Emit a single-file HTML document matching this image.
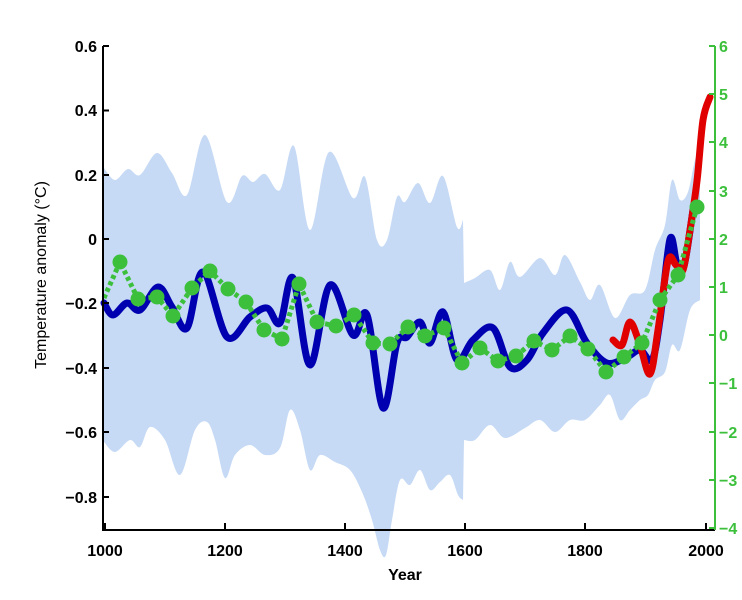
<!DOCTYPE html>
<html><head><meta charset="utf-8"><style>
html,body{margin:0;padding:0;background:#fff;}
svg{display:block;font-family:"Liberation Sans",Arial,sans-serif;font-weight:bold;}
</style></head><body>
<svg id="s" width="742" height="600" viewBox="0 0 742 600" xmlns="http://www.w3.org/2000/svg">
<path id="band" fill="#c6daf5" d=""/>
<path id="blue" fill="none" stroke="#0000b0" stroke-width="7" stroke-linejoin="round" stroke-linecap="round" d=""/>
<path id="red" fill="none" stroke="#e00000" stroke-width="7" stroke-linejoin="round" stroke-linecap="round" d=""/>
<polyline fill="none" stroke="#3cc03c" stroke-width="5" stroke-dasharray="4 3" points="104,298 120,262 138,299 157,297 173,316 192,288 210,271 228,289 246,302 264,330 282,339 299,284 317,322 336,326 354,315 373,343 390,344 408,327 425,336 444,328 462,363 480,348 498,361 516,356 534,341 552,350 570,336 588,349 606,372 624,357 642,343 660,300 678,275 697,207"/>
<g fill="#3cc03c">
<circle cx="120" cy="262" r="7.5"/><circle cx="138" cy="299" r="7.5"/><circle cx="157" cy="297" r="7.5"/><circle cx="173" cy="316" r="7.5"/><circle cx="192" cy="288" r="7.5"/><circle cx="210" cy="271" r="7.5"/><circle cx="228" cy="289" r="7.5"/><circle cx="246" cy="302" r="7.5"/><circle cx="264" cy="330" r="7.5"/><circle cx="282" cy="339" r="7.5"/><circle cx="299" cy="284" r="7.5"/><circle cx="317" cy="322" r="7.5"/><circle cx="336" cy="326" r="7.5"/><circle cx="354" cy="315" r="7.5"/><circle cx="373" cy="343" r="7.5"/><circle cx="390" cy="344" r="7.5"/><circle cx="408" cy="327" r="7.5"/><circle cx="425" cy="336" r="7.5"/><circle cx="444" cy="328" r="7.5"/><circle cx="462" cy="363" r="7.5"/><circle cx="480" cy="348" r="7.5"/><circle cx="498" cy="361" r="7.5"/><circle cx="516" cy="356" r="7.5"/><circle cx="534" cy="341" r="7.5"/><circle cx="552" cy="350" r="7.5"/><circle cx="570" cy="336" r="7.5"/><circle cx="588" cy="349" r="7.5"/><circle cx="606" cy="372" r="7.5"/><circle cx="624" cy="357" r="7.5"/><circle cx="642" cy="343" r="7.5"/><circle cx="660" cy="300" r="7.5"/><circle cx="678" cy="275" r="7.5"/><circle cx="697" cy="207" r="7.5"/>
</g>
<g stroke="#000" stroke-width="2" fill="none">
<path d="M103,46 L103,530 L715,530"/>
<path d="M103,46h6M103,110.5h6M103,175h6M103,239h6M103,303h6M103,368h6M103,432h6M103,497h6"/>
<path d="M105,530v-7M225,530v-7M345,530v-7M465,530v-7M585,530v-7M706,530v-7"/>
</g>
<g stroke="#3cc03c" stroke-width="2" fill="none">
<path d="M715,46 L715,530"/>
<path d="M715,46h-6M715,94h-6M715,142h-6M715,191h-6M715,239h-6M715,287h-6M715,335h-6M715,383h-6M715,432h-6M715,480h-6M715,528h-6"/>
</g>
<g font-size="16" fill="#000" text-anchor="end">
<text x="97" y="52">0.6</text><text x="97" y="116">0.4</text><text x="97" y="181">0.2</text><text x="97" y="245">0</text><text x="97" y="309">−0.2</text><text x="97" y="374">−0.4</text><text x="97" y="438">−0.6</text><text x="97" y="503">−0.8</text>
</g>
<g font-size="16" fill="#000" text-anchor="middle">
<text x="105" y="556">1000</text><text x="225" y="556">1200</text><text x="345" y="556">1400</text><text x="465" y="556">1600</text><text x="585" y="556">1800</text><text x="706" y="556">2000</text>
<text x="405" y="580">Year</text>
</g>
<g font-size="16" fill="#3cc03c">
<text x="719" y="52">6</text><text x="719" y="100">5</text><text x="719" y="148">4</text><text x="719" y="197">3</text><text x="719" y="245">2</text><text x="719" y="293">1</text><text x="719" y="341">0</text><text x="719" y="389">−1</text><text x="719" y="438">−2</text><text x="719" y="486">−3</text><text x="719" y="534">−4</text>
</g>
<text transform="translate(46,275) rotate(-90)" font-size="16" text-anchor="middle" font-weight="normal">Temperature anomaly (°C)</text>
</svg>
<script>
function cr(pts){var d="M"+pts[0][0]+","+pts[0][1];for(var i=0;i<pts.length-1;i++){var p0=pts[i-1]||pts[i],p1=pts[i],p2=pts[i+1],p3=pts[i+2]||p2;var t=6;d+=" C"+(p1[0]+(p2[0]-p0[0])/t).toFixed(1)+","+(p1[1]+(p2[1]-p0[1])/t).toFixed(1)+" "+(p2[0]-(p3[0]-p1[0])/t).toFixed(1)+","+(p2[1]-(p3[1]-p1[1])/t).toFixed(1)+" "+p2[0]+","+p2[1];}return d;}
function P(s){return s.trim().split(/\s+/).map(function(a){return a.split(",").map(Number);});}
var up=P("104,168 115,180 128,169 140,175 157,153 172,173 187,195 205,135 227,202 242,176 253,182 265,174 280,190 294,146 310,230 329,152 353,198 365,177 377,240 387,240 397,197 405,202 418,183 430,203 443,176 457,227 463,220");
var up2=P("464,283 475,278 490,270 500,290 510,262 520,277 540,258 555,275 565,255 580,282 590,300 600,285 615,318 630,295 645,290 655,250 665,225 672,180 680,200 688,192 695,160 700,150");
var lo2=P("700,300 690,310 680,350 672,345 665,372 655,380 648,395 640,400 630,410 620,420 610,395 600,405 585,420 570,420 555,432 540,420 525,428 505,438 490,425 475,440 464,440");
var lo=P("463,500 458,495 450,475 440,482 430,490 420,470 410,485 400,480 392,520 386,555 380,550 372,520 362,492 350,470 335,462 320,455 310,470 300,430 290,410 280,448 265,455 250,445 235,455 225,478 215,440 207,422 195,430 180,475 165,440 150,427 140,447 130,440 115,452 104,442");
var d=cr(up)+" L"+cr(up2).slice(1)+" L"+cr(lo2).slice(1)+" L"+cr(lo).slice(1)+" Z";
document.getElementById("band").setAttribute("d",d);
document.getElementById("blue").setAttribute("d",cr(P("104,303 113,315 127,303 140,310 158,287 172,307 187,328 203,272 227,337 250,317 267,308 280,323 293,278 310,365 330,285 353,335 367,315 383,408 397,343 407,337 420,322 430,343 443,312 457,360 473,340 493,328 510,367 527,360 543,333 567,310 587,343 607,363 627,357 640,350 652,360 660,320 670,239 677,264 684,266 693,210")));
document.getElementById("red").setAttribute("d",cr(P("613,340 622,345 630,322 640,345 650,374 658,330 668,261 676,265 683,270 690,230 697,181 703,120 710,97")));
</script>
</body></html>
